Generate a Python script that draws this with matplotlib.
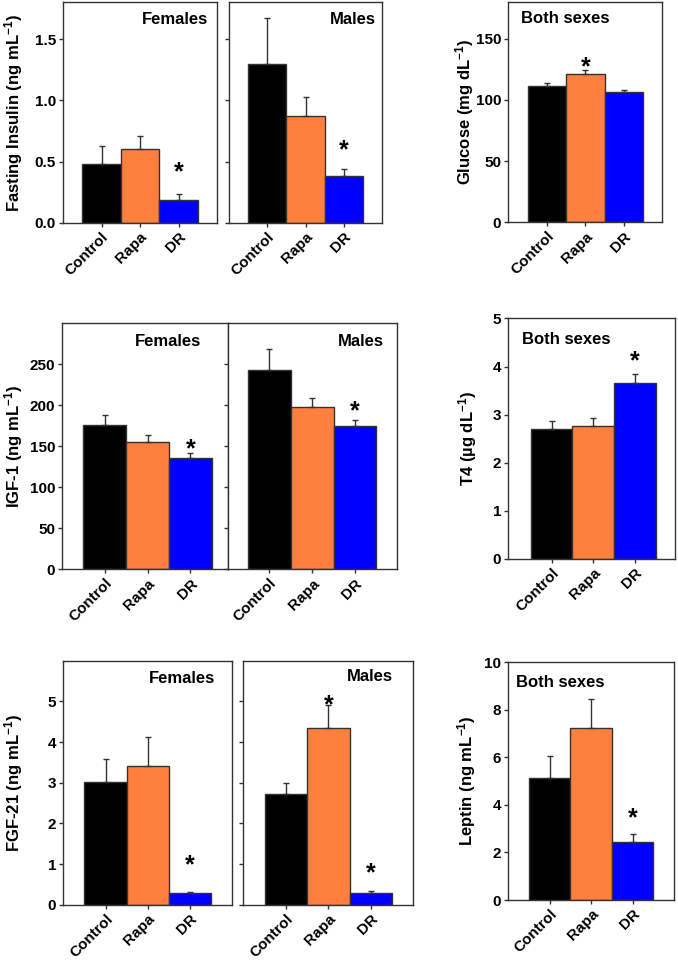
import matplotlib
matplotlib.use("Agg")
import matplotlib.pyplot as plt
import numpy as np

plt.rcParams['font.family'] = ['Liberation Sans', 'DejaVu Sans']
plt.rcParams['font.weight'] = 'bold'
plt.rcParams['axes.labelweight'] = 'bold'
plt.rcParams['mathtext.fontset'] = 'custom'
plt.rcParams['mathtext.rm'] = 'Liberation Sans:bold'
plt.rcParams['mathtext.bf'] = 'Liberation Sans:bold'
plt.rcParams['mathtext.default'] = 'bf'

groups = ['Control', 'Rapa', 'DR']
colors = ['#000000', '#ff7f3f', '#0000ff']

# mean and SEM
insulin_f = [0.48, 0.60, 0.19]
insulin_f_se = [0.15, 0.11, 0.05]
insulin_m = [1.30, 0.87, 0.38]
insulin_m_se = [0.37, 0.16, 0.06]
glucose = [111.7, 121.0, 106.3]
glucose_se = [2.5, 3.2, 2.2]
igf_f = [176, 155, 135]
igf_f_se = [12, 9, 7]
igf_m = [243, 198, 174]
igf_m_se = [25.5, 11, 8]
t4 = [2.69, 2.76, 3.66]
t4_se = [0.17, 0.17, 0.18]
fgf_f = [3.02, 3.41, 0.28]
fgf_f_se = [0.57, 0.71, 0.04]
fgf_m = [2.72, 4.35, 0.28]
fgf_m_se = [0.28, 0.56, 0.06]
leptin = [5.15, 7.25, 2.43]
leptin_se = [0.91, 1.19, 0.35]

# significance stars (height of star centre, None = no star)
insulin_f_star = [None, None, 0.47]
insulin_m_star = [None, None, 0.65]
glucose_star = [None, 132, None]
igf_f_star = [None, None, 155]
igf_m_star = [None, None, 200.7]
t4_star = [None, None, 4.25]
fgf_f_star = [None, None, 1.14]
fgf_m_star = [None, 5.07, 0.93]
leptin_star = [None, None, 3.74]

W, H = 678, 963
fig = plt.figure(figsize=(W / 100, H / 100), dpi=100)

def rect(l, r, t, b):
    return [l / W, 1 - b / H, (r - l) / W, (b - t) / H]

panels = [
    dict(box=(63, 217, 2.5, 223), v=insulin_f, e=insulin_f_se, s=insulin_f_star,
         ylim=(0, 1.8), yt=[0, 0.5, 1.0, 1.5], fmt='{:.1f}', xlim=(-1, 3),
         ylabel='Fasting Insulin (ng mL$^{-1}$)', lab_x=13.7,
         title='Females', tx=0.94, ty=0.925, ha='right'),
    dict(box=(229, 382, 2.5, 223), v=insulin_m, e=insulin_m_se, s=insulin_m_star,
         ylim=(0, 1.8), yt=[0, 0.5, 1.0, 1.5], fmt=None, xlim=(-1, 3),
         title='Males', tx=0.96, ty=0.925, ha='right'),
    dict(box=(508.3, 662.3, 2, 222.3), v=glucose, e=glucose_se, s=glucose_star,
         ylim=(0, 180), yt=[0, 50, 100, 150], fmt='{:.0f}', xlim=(-1, 3),
         ylabel='Glucose (mg dL$^{-1}$)', lab_x=465,
         title='Both sexes', tx=0.08, ty=0.923, ha='left'),
    dict(box=(62, 228, 323, 569.3), v=igf_f, e=igf_f_se, s=igf_f_star,
         ylim=(0, 300), yt=[0, 50, 100, 150, 200, 250], fmt='{:.0f}', xlim=(-1, 2.88),
         ylabel='IGF-1 (ng mL$^{-1}$)', lab_x=13.3,
         title='Females', tx=0.84, ty=0.924, ha='right'),
    dict(box=(228, 397, 323, 569.3), v=igf_m, e=igf_m_se, s=igf_m_star,
         ylim=(0, 300), yt=[0, 50, 100, 150, 200, 250], fmt=None, xlim=(-0.96, 2.98),
         title='Males', tx=0.92, ty=0.924, ha='right'),
    dict(box=(508.3, 675, 318.5, 558.7), v=t4, e=t4_se, s=t4_star,
         ylim=(0, 5), yt=[0, 1, 2, 3, 4, 5], fmt='{:.0f}', xlim=(-1.04, 2.96),
         ylabel='T4 (µg dL$^{-1}$)', lab_x=468,
         title='Both sexes', tx=0.08, ty=0.913, ha='left'),
    dict(box=(63.3, 232.3, 660.7, 904.7), v=fgf_f, e=fgf_f_se, s=fgf_f_star,
         ylim=(0, 6), yt=[0, 1, 2, 3, 4, 5], fmt='{:.0f}', xlim=(-1, 3),
         ylabel='FGF-21 (ng mL$^{-1}$)', lab_x=13.3,
         title='Females', tx=0.898, ty=0.928, ha='right'),
    dict(box=(243.3, 413.3, 660.7, 904.7), v=fgf_m, e=fgf_m_se, s=fgf_m_star,
         ylim=(0, 6), yt=[0, 1, 2, 3, 4, 5], fmt=None, xlim=(-1, 3),
         title='Males', tx=0.88, ty=0.934, ha='right'),
    dict(box=(508.3, 674, 662.3, 900), v=leptin, e=leptin_se, s=leptin_star,
         ylim=(0, 10), yt=[0, 2, 4, 6, 8, 10], fmt='{:.0f}', xlim=(-1, 3),
         ylabel='Leptin (ng mL$^{-1}$)', lab_x=466.7,
         title='Both sexes', tx=0.046, ty=0.916, ha='left'),
]

edge = '#333333'
x = np.arange(len(groups))

for p in panels:
    l, r, t, b = p['box']
    ax = fig.add_axes(rect(l, r, t, b))
    ax.bar(x, p['v'], width=1.0, color=colors, edgecolor=edge, linewidth=1.0, zorder=2)
    ax.errorbar(x, p['v'], yerr=[np.zeros(3), p['e']], fmt='none', ecolor=edge,
                elinewidth=1.0, capsize=2.5, capthick=1.0, zorder=3)
    for xi, sy in zip(x, p['s']):
        if sy is not None:
            ax.annotate('*', xy=(xi, sy), xytext=(0, -10), textcoords='offset points',
                        ha='center', va='baseline', fontsize=18, fontweight='bold')
    ax.set_xlim(*p['xlim'])
    ax.set_ylim(*p['ylim'])
    ax.set_xticks(x)
    ax.set_xticklabels(groups, rotation=45, ha='right', rotation_mode='anchor')
    ax.set_yticks(p['yt'])
    if p['fmt'] is None:
        ax.set_yticklabels([])
    else:
        ax.set_yticklabels([p['fmt'].format(v) for v in p['yt']])
    ax.tick_params(direction='out', length=3, width=1, color=edge, labelsize=11, pad=2)
    for sp in ax.spines.values():
        sp.set_color(edge)
        sp.set_linewidth(1.0)
    if 'ylabel' in p:
        ax.set_ylabel(p['ylabel'], fontsize=12, va='center')
        ax.yaxis.set_label_coords((p['lab_x'] - l) / (r - l), 0.5)
    ax.text(p['tx'], p['ty'], p['title'], transform=ax.transAxes, ha=p['ha'],
            va='center', fontsize=12, fontweight='bold')

fig.savefig('out.png', dpi=100)
